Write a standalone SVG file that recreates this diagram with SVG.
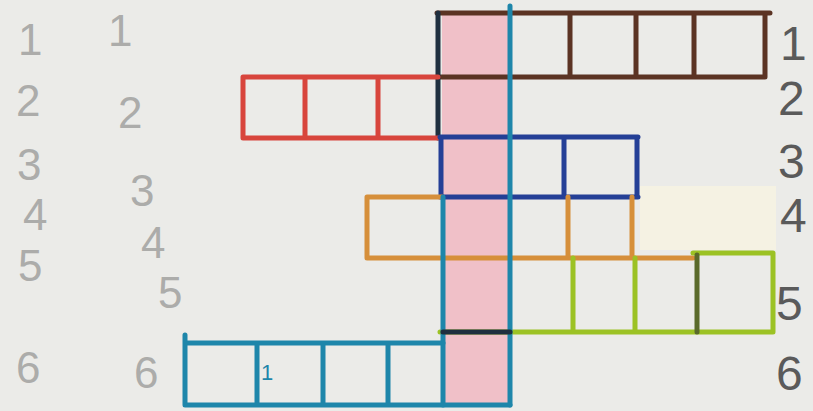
<svg xmlns="http://www.w3.org/2000/svg" width="813" height="411" viewBox="0 0 813 411">
<style>
.ln{fill:none;stroke-linecap:round;stroke-linejoin:round;stroke-width:5}
.br{stroke:#5b3323}.rd{stroke:#d8453c}.nv{stroke:#243f96}.or{stroke:#d68f3a}.gr{stroke:#9cc224}.tl{stroke:#1e86aa}.dk{stroke:#1f2f3f}
.pl{font-family:"Liberation Sans",sans-serif;font-size:44px;fill:#acacaa}
.pd{font-family:"Liberation Sans",sans-serif;font-size:48px;fill:#5a5a5a}
</style>
<rect x="0" y="0" width="813" height="411" fill="#ebebe8"/>
<rect x="442" y="13" width="68" height="392" fill="#f0c0c8"/>
<rect x="640" y="186" width="136" height="64" fill="#f5f2e3"/>
<g id="row1">
<path class="ln br" d="M437 13H770M437 77H765M570 13V77M636 13V77M694 13V77M765 13V77"/>
<path class="ln dk" d="M438 13V138"/>
</g>
<g id="row2">
<path class="ln rd" d="M243 77H438M243 138H438M243 77V138M305 77V138M378 77V138"/>
</g>
<g id="row3">
<path class="ln nv" d="M440 137H638M440 197H638M441 138V197M564 137V197M637 137V197"/>
</g>
<g id="row4">
<path class="ln or" d="M367 197H442M367 197V258M367 258H693M568 197V258M632 197V258"/>
</g>
<g id="row5">
<path class="ln gr" d="M693 253H773M773 253V332M573 258V332M635 258V332M440 332H773"/>
<path class="ln" stroke="#5a6a2a" d="M697 255V332"/>
</g>
<g id="row6">
<path class="ln tl" d="M185 335V405M185 343H443M185 405H510M257 343V405M323 343V405M388 343V405"/>
</g>
<g id="pinkcol">
<path class="ln tl" d="M510 6V405M443 197V405"/>
<path class="ln dk" d="M443 332H510"/>
</g>
<g id="numbers">
<text class="pl" x="18" y="55">1</text>
<text class="pl" x="16" y="116">2</text>
<text class="pl" x="17" y="180" font-size="40">3</text>
<text class="pl" x="23" y="230" font-size="24">4</text>
<text class="pl" x="18" y="281">5</text>
<text class="pl" x="16" y="383">6</text>
<text class="pl" x="108" y="46">1</text>
<text class="pl" x="118" y="128">2</text>
<text class="pl" x="130" y="206">3</text>
<text class="pl" x="141" y="258">4</text>
<text class="pl" x="158" y="308">5</text>
<text class="pl" x="134" y="388">6</text>
<text class="pd" x="780" y="60">1</text>
<text class="pd" x="778" y="115">2</text>
<text class="pd" x="778" y="178">3</text>
<text class="pd" x="780" y="232">4</text>
<text class="pd" x="776" y="320">5</text>
<text class="pd" x="776" y="390">6</text>
<text x="261" y="380" font-family="Liberation Sans,sans-serif" font-size="22" fill="#1e86aa">1</text>
</g>
</svg>
